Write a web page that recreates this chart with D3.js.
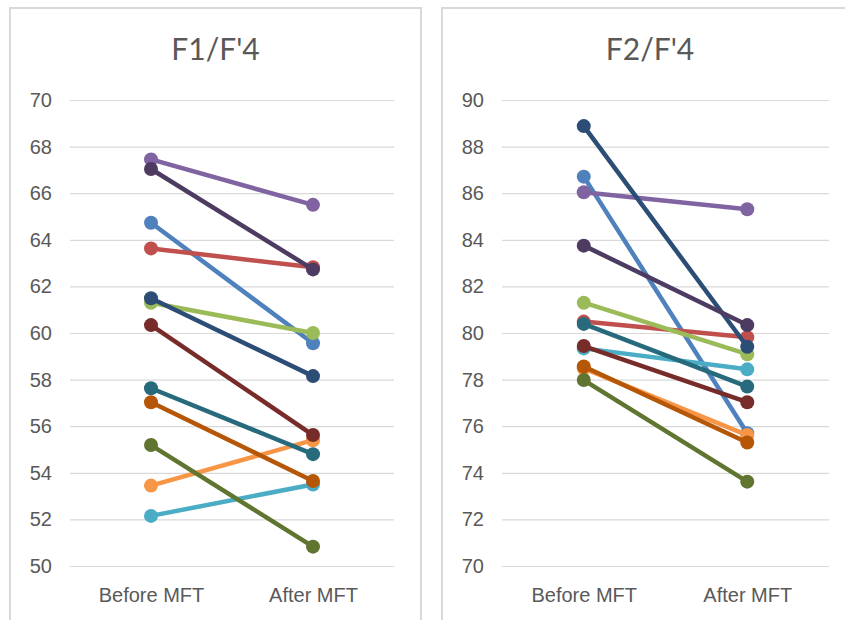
<!DOCTYPE html>
<html>
<head>
<meta charset="utf-8">
<script src="https://cdn.jsdelivr.net/npm/d3@7"></script>
<style>
  html, body { margin: 0; padding: 0; background: #fff; }
  svg { display: block; font-family: Lato, "Open Sans", sans-serif; }
</style>
</head>
<body>
<svg id="chart" width="845" height="620"></svg>
<script>
// ─── Data ─────────────────────────────────────────────────────────────────────
const categories = ["Before MFT", "After MFT"];

// Excel 2010 series palette, in series order
const seriesColors = [
  "#4F81BD", "#C0504D", "#9BBB59", "#8064A2", "#4BACC6", "#F79646",
  "#2C4D75", "#772C2A", "#5F7530", "#4D3B62", "#276A7C", "#B65708",
];

// F1/F'4 — [before, after] per subject
const f1Values = [
  [64.73, 59.56], [63.63, 62.82], [61.30, 60.00], [67.45, 65.50],
  [52.15, 53.50], [53.45, 55.40], [61.49, 58.15], [60.34, 55.62],
  [55.19, 50.83], [67.04, 62.73], [57.63, 54.80], [57.03, 53.65],
];
const f1Ticks = [50, 52, 54, 56, 58, 60, 62, 64, 66, 68, 70];

// F2/F'4
const f2Values = [
  [86.71, 75.70], [80.49, 79.82], [81.30, 79.09], [86.04, 85.31],
  [79.34, 78.44], [78.48, 75.62], [88.88, 79.41], [79.44, 77.03],
  [77.98, 73.62], [83.75, 80.34], [80.39, 77.70], [78.56, 75.30],
];
const f2Ticks = [70, 72, 74, 76, 78, 80, 82, 84, 86, 88, 90];

// ─── Panels ───────────────────────────────────────────────────────────────────
const svg = d3.select("#chart");
const TEXT = "#595959";
const GRID = "#d9d9d9";

function panel(opts) {
  const { title, values, ticks, box, plot } = opts;
  const g = svg.append("g");

  // chart frame
  g.append("rect")
    .attr("x", box.x).attr("y", box.y)
    .attr("width", box.w).attr("height", box.h)
    .attr("fill", "#fff").attr("stroke", GRID).attr("stroke-width", 2);

  g.append("text")
    .attr("x", box.x + box.w / 2 + (opts.titleShift || 0)).attr("y", 60)
    .attr("text-anchor", "middle")
    .attr("fill", TEXT).attr("font-size", 30)
    .text(title);

  const x = d3.scalePoint().domain(categories).range([plot.x0, plot.x1]).padding(0.5);
  const y = d3.scaleLinear().domain(d3.extent(ticks)).range([plot.y1, plot.y0]);

  const yAxis = g.append("g")
    .attr("transform", `translate(${plot.x0},0)`)
    .call(d3.axisLeft(y).tickValues(ticks).tickSize(-(plot.x1 - plot.x0)).tickPadding(18));
  yAxis.select(".domain").remove();
  yAxis.selectAll(".tick line").attr("stroke", GRID).attr("stroke-width", 1.2);
  yAxis.selectAll(".tick text")
    .attr("fill", TEXT).attr("font-size", 20).attr("font-family", null);

  const xAxis = g.append("g")
    .attr("transform", `translate(0,${plot.y1})`)
    .call(d3.axisBottom(x).tickSize(0).tickPadding(22));
  xAxis.select(".domain").remove();
  xAxis.selectAll(".tick text")
    .attr("fill", TEXT).attr("font-size", 20).attr("font-family", null);

  const line = d3.line().x((d, i) => x(categories[i])).y((d) => y(d));

  values.forEach((vals, s) => {
    const sg = g.append("g");
    sg.append("path").datum(vals)
      .attr("fill", "none").attr("stroke", seriesColors[s])
      .attr("stroke-width", 4.5).attr("d", line);
    sg.selectAll("circle").data(vals).join("circle")
      .attr("cx", (d, i) => x(categories[i])).attr("cy", (d) => y(d))
      .attr("r", 7).attr("fill", seriesColors[s]);
  });
}

panel({
  title: "F1/F'4", values: f1Values, ticks: f1Ticks,
  box: { x: 10, y: 8, w: 411, h: 640 },
  plot: { x0: 70, x1: 394, y0: 100, y1: 566 },
});

panel({
  title: "F2/F'4", values: f2Values, ticks: f2Ticks,
  box: { x: 442, y: 8, w: 430, h: 640 }, titleShift: -7,
  plot: { x0: 502, x1: 829, y0: 100, y1: 566 },
});
</script>
</body>
</html>
